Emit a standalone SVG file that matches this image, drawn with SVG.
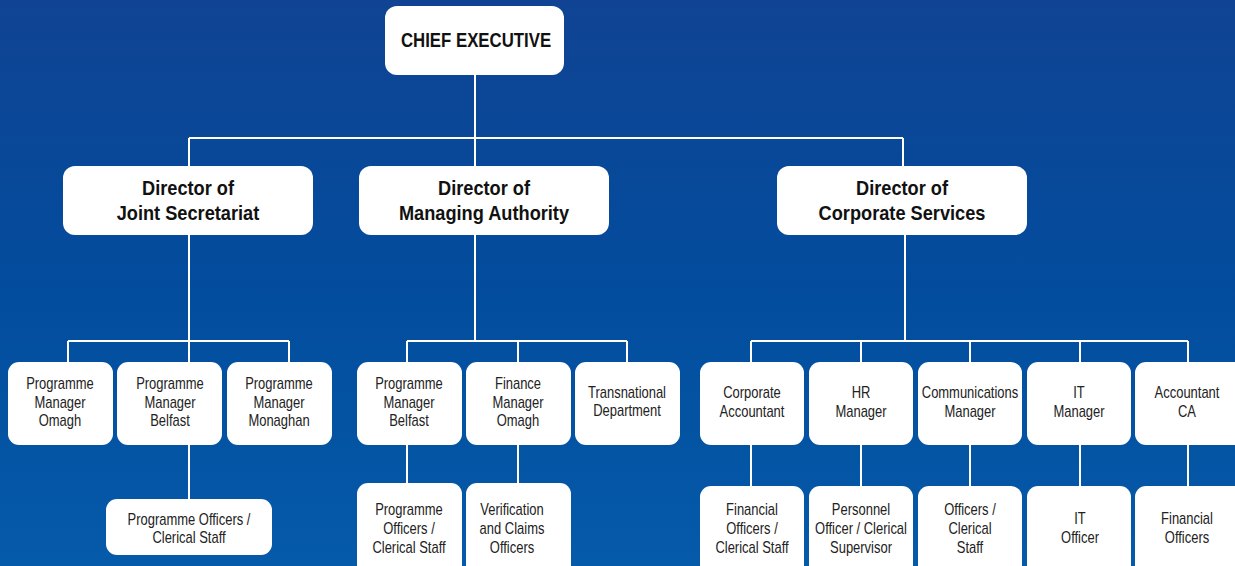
<svg xmlns="http://www.w3.org/2000/svg" width="1235" height="566" viewBox="0 0 1235 566">
<defs>
<linearGradient id="bg" x1="0" y1="0" x2="0" y2="1">
<stop offset="0" stop-color="#104393"/>
<stop offset="0.5" stop-color="#034c9d"/>
<stop offset="1" stop-color="#055aa9"/>
</linearGradient>
</defs>
<style>
.box{fill:#ffffff}
.ln{stroke:#ffffff;stroke-width:2;fill:none}
.t{font-family:"Liberation Sans",Arial,sans-serif;font-size:16px;fill:#222222;text-anchor:middle}
.b{font-family:"Liberation Sans",Arial,sans-serif;font-size:20px;font-weight:bold;fill:#111111;text-anchor:middle}
</style>
<rect x="0" y="0" width="1235" height="566" fill="url(#bg)"/>
<g id="connectors" class="ln">
<path d="M475 75 V166 M189 138 H903 M189 138 V166 M903 138 V166"/>
<path d="M189 235 V499 M68 341 H289 M68 341 V362 M289 341 V362"/>
<path d="M475 235 V341 M407 341 H627 M407 341 V483 M518 341 V483 M627 341 V362"/>
<path d="M905 235 V341 M751 341 H1188 M751 341 V486 M861 341 V486 M970 341 V486 M1080 341 V486 M1188 341 V486"/>
</g>
<g id="chief"><rect class="box" x="385" y="6" width="179" height="69" rx="12"/><text class="b" transform="translate(476 47) scale(.84 1)">CHIEF EXECUTIVE</text></g>
<g id="dir-js"><rect class="box" x="63" y="166" width="250" height="69" rx="12"/><text class="b" transform="translate(188 195) scale(.91 1)">Director of</text><text class="b" transform="translate(188 220) scale(.91 1)">Joint Secretariat</text></g>
<g id="dir-ma"><rect class="box" x="359" y="166" width="250" height="69" rx="12"/><text class="b" transform="translate(484 195) scale(.91 1)">Director of</text><text class="b" transform="translate(484 220) scale(.91 1)">Managing Authority</text></g>
<g id="dir-cs"><rect class="box" x="777" y="166" width="250" height="69" rx="12"/><text class="b" transform="translate(902 195) scale(.91 1)">Director of</text><text class="b" transform="translate(902 220) scale(.91 1)">Corporate Services</text></g>

<g id="pm-omagh"><rect class="box" x="8" y="362" width="105" height="83" rx="11"/><text class="t" transform="translate(60 389) scale(.81 1)">Programme</text><text class="t" transform="translate(60 408) scale(.81 1)">Manager</text><text class="t" transform="translate(60 426) scale(.81 1)">Omagh</text></g>
<g id="pm-belfast-js"><rect class="box" x="117" y="362" width="105" height="83" rx="11"/><text class="t" transform="translate(170 389) scale(.81 1)">Programme</text><text class="t" transform="translate(170 408) scale(.81 1)">Manager</text><text class="t" transform="translate(170 426) scale(.81 1)">Belfast</text></g>
<g id="pm-monaghan"><rect class="box" x="227" y="362" width="105" height="83" rx="11"/><text class="t" transform="translate(279 389) scale(.81 1)">Programme</text><text class="t" transform="translate(279 408) scale(.81 1)">Manager</text><text class="t" transform="translate(279 426) scale(.81 1)">Monaghan</text></g>
<g id="po-js"><rect class="box" x="106" y="499" width="166" height="56" rx="11"/><text class="t" transform="translate(189 525) scale(.81 1)">Programme Officers /</text><text class="t" transform="translate(189 543) scale(.81 1)">Clerical Staff</text></g>

<g id="pm-belfast-ma"><rect class="box" x="357" y="362" width="105" height="83" rx="11"/><text class="t" transform="translate(409 389) scale(.81 1)">Programme</text><text class="t" transform="translate(409 408) scale(.81 1)">Manager</text><text class="t" transform="translate(409 426) scale(.81 1)">Belfast</text></g>
<g id="fm-omagh"><rect class="box" x="466" y="362" width="105" height="83" rx="11"/><text class="t" transform="translate(518 389) scale(.81 1)">Finance</text><text class="t" transform="translate(518 408) scale(.81 1)">Manager</text><text class="t" transform="translate(518 426) scale(.81 1)">Omagh</text></g>
<g id="transnational"><rect class="box" x="575" y="362" width="105" height="83" rx="11"/><text class="t" transform="translate(627 398) scale(.81 1)">Transnational</text><text class="t" transform="translate(627 416) scale(.81 1)">Department</text></g>
<g id="po-ma"><rect class="box" x="357" y="483" width="105" height="95" rx="11"/><text class="t" transform="translate(409 515) scale(.81 1)">Programme</text><text class="t" transform="translate(409 534) scale(.81 1)">Officers /</text><text class="t" transform="translate(409 553) scale(.81 1)">Clerical Staff</text></g>
<g id="verification"><rect class="box" x="466" y="483" width="105" height="95" rx="11"/><text class="t" transform="translate(512 515) scale(.81 1)">Verification</text><text class="t" transform="translate(512 534) scale(.81 1)">and Claims</text><text class="t" transform="translate(512 553) scale(.81 1)">Officers</text></g>

<g id="corp-acc"><rect class="box" x="700" y="362" width="104" height="83" rx="11"/><text class="t" transform="translate(752 398) scale(.81 1)">Corporate</text><text class="t" transform="translate(752 417) scale(.81 1)">Accountant</text></g>
<g id="hr"><rect class="box" x="809" y="362" width="104" height="83" rx="11"/><text class="t" transform="translate(861 398) scale(.81 1)">HR</text><text class="t" transform="translate(861 417) scale(.81 1)">Manager</text></g>
<g id="comms"><rect class="box" x="918" y="362" width="104" height="83" rx="11"/><text class="t" transform="translate(970 398) scale(.81 1)">Communications</text><text class="t" transform="translate(970 417) scale(.81 1)">Manager</text></g>
<g id="it"><rect class="box" x="1027" y="362" width="104" height="83" rx="11"/><text class="t" transform="translate(1079 398) scale(.81 1)">IT</text><text class="t" transform="translate(1079 417) scale(.81 1)">Manager</text></g>
<g id="acc-ca"><rect class="box" x="1135" y="362" width="110" height="83" rx="11"/><text class="t" transform="translate(1187 398) scale(.81 1)">Accountant</text><text class="t" transform="translate(1187 417) scale(.81 1)">CA</text></g>

<g id="fin-off"><rect class="box" x="700" y="486" width="104" height="95" rx="11"/><text class="t" transform="translate(752 515) scale(.81 1)">Financial</text><text class="t" transform="translate(752 534) scale(.81 1)">Officers /</text><text class="t" transform="translate(752 553) scale(.81 1)">Clerical Staff</text></g>
<g id="personnel"><rect class="box" x="809" y="486" width="104" height="95" rx="11"/><text class="t" transform="translate(861 515) scale(.81 1)">Personnel</text><text class="t" transform="translate(861 534) scale(.81 1)">Officer / Clerical</text><text class="t" transform="translate(861 553) scale(.81 1)">Supervisor</text></g>
<g id="officers"><rect class="box" x="918" y="486" width="104" height="95" rx="11"/><text class="t" transform="translate(970 515) scale(.81 1)">Officers /</text><text class="t" transform="translate(970 534) scale(.81 1)">Clerical</text><text class="t" transform="translate(970 553) scale(.81 1)">Staff</text></g>
<g id="it-off"><rect class="box" x="1027" y="486" width="104" height="95" rx="11"/><text class="t" transform="translate(1080 524) scale(.81 1)">IT</text><text class="t" transform="translate(1080 543) scale(.81 1)">Officer</text></g>
<g id="fin-off2"><rect class="box" x="1135" y="486" width="110" height="95" rx="11"/><text class="t" transform="translate(1187 524) scale(.81 1)">Financial</text><text class="t" transform="translate(1187 543) scale(.81 1)">Officers</text></g>
</svg>
